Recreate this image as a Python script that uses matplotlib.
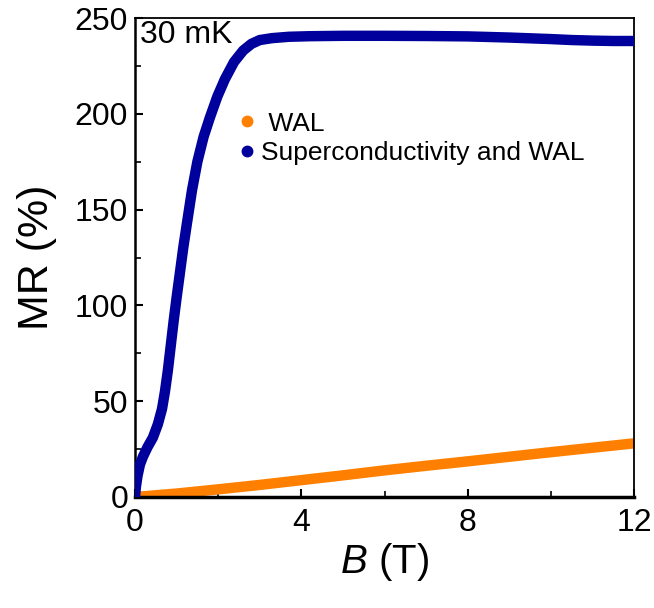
import matplotlib
matplotlib.use("Agg")
import matplotlib.pyplot as plt
from matplotlib.ticker import MultipleLocator
from matplotlib.lines import Line2D

plt.rcParams['font.family'] = ['Liberation Sans', 'DejaVu Sans']
plt.rcParams['mathtext.fontset'] = 'custom'
plt.rcParams['mathtext.it'] = 'Liberation Sans:italic'
plt.rcParams['mathtext.rm'] = 'Liberation Sans'

# Data
B_sc = [0.0, 0.02, 0.06, 0.12, 0.19, 0.3, 0.43, 0.55, 0.65, 0.72, 0.79, 0.86, 0.93, 1.0,
        1.08, 1.16, 1.25, 1.37, 1.5, 1.65, 1.8, 1.98, 2.16, 2.38, 2.6, 2.8, 3.0, 3.3, 3.7,
        4.2, 5.0, 6.0, 7.0, 8.0, 8.5, 9.0, 9.5, 10.0, 10.5, 11.0, 11.5, 12.0]
MR_sc = [0.0, 5, 11, 17, 21, 26, 31, 38, 46, 55, 66, 79, 92, 104,
         117, 130, 143, 160, 175, 188, 198, 209, 218, 227, 233, 236.5, 238.5, 239.5, 240.2,
         240.5, 240.7, 240.7, 240.6, 240.4, 240.1, 239.8, 239.4, 239, 238.5, 238.2, 238, 238]

B_wal = [0.0, 0.5, 1.0, 2.0, 3.0, 4.0, 5.0, 6.0, 7.0, 8.0, 9.0, 10.0, 11.0, 12.0]
MR_wal = [0.0, 0.9, 1.8, 4.0, 6.3, 8.8, 11.3, 13.9, 16.3, 18.6, 21.0, 23.4, 25.7, 28.0]

blue = '#00009C'
orange = '#FF8000'

fig = plt.figure(figsize=(6.54, 6.08), dpi=100)
ax = fig.add_axes([135/654, 1 - 497/608, (634-135)/654, (497-18)/608])

ax.plot(B_wal, MR_wal, color=orange, lw=7.5, solid_capstyle='butt', zorder=2)
ax.plot(B_sc, MR_sc, color=blue, lw=7.5, solid_capstyle='butt', solid_joinstyle='round', zorder=3)

ax.set_xlim(0, 12)
ax.set_ylim(0, 250)
ax.xaxis.set_major_locator(MultipleLocator(4))
ax.xaxis.set_minor_locator(MultipleLocator(2))
ax.yaxis.set_major_locator(MultipleLocator(50))
ax.yaxis.set_minor_locator(MultipleLocator(25))
ax.tick_params(which='both', direction='in', top=False, right=False, labelsize=23)
ax.tick_params(axis='y', pad=5)
ax.tick_params(axis='x', pad=8)
ax.tick_params(which='major', length=6, width=1.5)
ax.tick_params(which='minor', length=4, width=1.2)

for s in ['top', 'right']:
    ax.spines[s].set_linewidth(1.3)
ax.spines['left'].set_linewidth(1.8)
ax.spines['bottom'].set_linewidth(2.5)

ax.set_xlabel(r'$\mathit{B}$ (T)', fontsize=29, labelpad=2)
ax.set_ylabel('MR (%)', fontsize=31, labelpad=13)

ax.text(0.01, 0.995, '30 mK', transform=ax.transAxes, fontsize=23, va='top', ha='left')

handles = [Line2D([], [], ls='none', marker='o', ms=7.5, color=orange),
           Line2D([], [], ls='none', marker='o', ms=7.5, color=blue)]
ax.legend(handles, [' WAL', 'Superconductivity and WAL'], loc='upper left',
          bbox_to_anchor=(0.166, 0.843), frameon=False, fontsize=19,
          handletextpad=0.15, handlelength=0.8, labelspacing=0.22, borderpad=0.2)

fig.savefig('out.png', dpi=100)
